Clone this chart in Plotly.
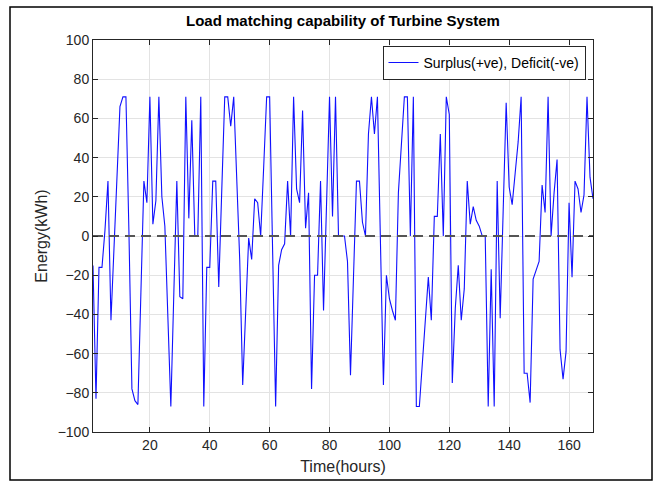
import plotly.graph_objects as go

hours = list(range(1, 169))
energy = [
    -15, -83, -16, -16, 3, 28, -43, -5, 30, 66,
    71, 71, 2, -78, -84, -86, -29, 28, 17, 71,
    6, 18, 71, 20, 5, -40, -87, -29, 28, -31,
    -32, 71, 9, 59, 0, 0, 71, -87, -16, -16,
    28, 28, -26, 23, 71, 71, 56, 71, 25, -12,
    -76, -37, -1, -12, 19, 17, 0, 35, 71, 71,
    -8, -87, -15, -7, -4, 28, 0, 71, 24, 17,
    64, 4, 22, -78, -20, -20, 28, -38, 16, 71,
    10, 71, 0, 0, 0, -13, -71, -21, 28, 28,
    7, 0, 52, 71, 52, 71, -2, -76, -20, -32,
    -38, -43, 22, 47, 71, 71, 0, 71, -87, -87,
    -65, -43, -21, -43, 10, 10, 52, 0, 71, 62,
    -75, -37, -15, -43, -27, 28, 6, 15, 8, 5,
    0, 0, -87, -17, -87, 28, -42, 13, 68, 25,
    16, 32, 48, 71, -70, -70, -85, -22, -17, -13,
    26, 12, 71, 0, 22, 39, -58, -73, -59, 17,
    -21, 28, 24, 12, 21, 71, 30, 19,
]
baseline = [0] * len(hours)
x_ticks = [20, 40, 60, 80, 100, 120, 140, 160]
y_ticks = [-100, -80, -60, -40, -20, 0, 20, 40, 60, 80, 100]

FONT = "Liberation Sans, Arial, Helvetica, sans-serif"
AXC = "#262626"

fig = go.Figure()
fig.add_trace(go.Scatter(
    x=hours, y=energy, mode="lines",
    name="Surplus(+ve), Deficit(-ve)",
    line=dict(color="#1010ff", width=1.1),
))
fig.add_trace(go.Scatter(
    x=hours, y=baseline, mode="lines", showlegend=False, hoverinfo="skip",
    line=dict(color="#555555", width=2, dash="10px,6px"),
))

axis_common = dict(
    showgrid=True, gridcolor="#e3e3e3", gridwidth=1,
    showline=True, linecolor=AXC, linewidth=1, mirror="ticks",
    ticks="inside", ticklen=5, tickcolor=AXC, tickwidth=1,
    zeroline=False, tickfont=dict(family=FONT, size=14, color=AXC),
)
fig.update_xaxes(range=[1, 168], tickvals=x_ticks,
                 title=dict(text="Time(hours)", font=dict(family=FONT, size=16, color=AXC), standoff=9),
                 **axis_common)
fig.update_yaxes(range=[-100, 100], tickvals=y_ticks,
                 title=dict(text="Energy(kWh)", font=dict(family=FONT, size=16, color=AXC), standoff=6),
                 **axis_common)

fig.add_shape(type="rect", xref="paper", yref="paper",
              x0=(10 - 93) / 500, x1=(652 - 93) / 500,
              y0=(432 - 480) / 392, y1=(432 - 7) / 392,
              line=dict(color="black", width=1.5), fillcolor="rgba(0,0,0,0)", layer="above")

fig.update_layout(
    width=660, height=486,
    margin=dict(l=93, r=67, t=40, b=54),
    paper_bgcolor="white", plot_bgcolor="white",
    title=dict(text="<b>Load matching capability of Turbine System</b>",
               font=dict(family=FONT, size=15, color="black"),
               x=(343) / 660, xanchor="center", y=1 - 21 / 486, yanchor="middle"),
    showlegend=True,
    legend=dict(x=0.985, xanchor="right", y=0.985, yanchor="top",
                bgcolor="white", bordercolor="#262626", borderwidth=1,
                font=dict(family=FONT, size=14, color="black"),
                tracegroupgap=0),
)

fig.write_html("out.html", config={"displayModeBar": False},
               post_script=["document.body.style.margin='0';"])
